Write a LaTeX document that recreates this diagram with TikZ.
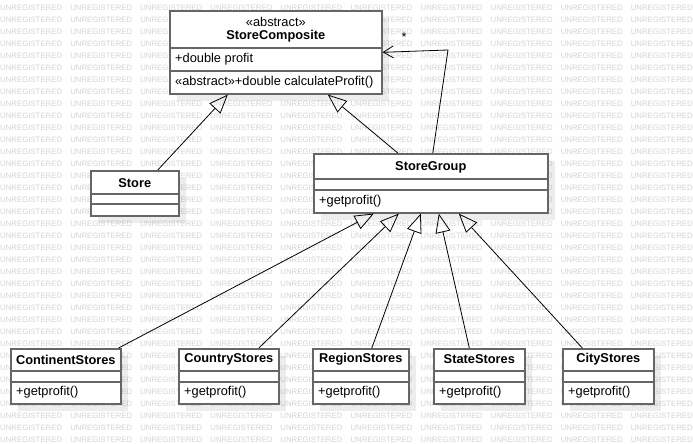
\documentclass[tikz,border=0pt]{standalone}
\usepackage{fontspec}
\setmainfont{Liberation Sans}
\usetikzlibrary{positioning,arrows.meta,shadows}
\tikzset{class box/.style={draw=black!60,line width=1.6pt,fill=white,anchor=north west,inner sep=0pt,
    drop shadow={shadow xshift=7pt,shadow yshift=-7pt,fill=black,opacity=.07}},
  part line/.style={draw=black!60,line width=1.6pt},
  class name/.style={font=\fontsize{12.8}{15}\selectfont\bfseries},
  member/.style={anchor=west,inner sep=0pt},
  inherit/.style={draw,line width=.8pt,-{Triangle[open,length=19pt,width=15pt]}},
  assoc/.style={draw,line width=.8pt,-{Straight Barb[length=10pt,width=12pt]}},
  watermark/.style={anchor=west,inner sep=0pt,text=black!17,font=\fontsize{7.8}{8}\selectfont},}

\begin{document}
\begin{tikzpicture}[x=1pt,y=-1pt,font=\fontsize{12.8}{15}\selectfont]
    \fill[white] (0,0) rectangle (693,444);
    \useasboundingbox (0,0) rectangle (693,444);

    % watermark
    \foreach \r in {0,...,36}
      \foreach \c in {0,...,9}
        \node[watermark] (wm-\r-\c) at (\c*70.07,8.3+\r*12) {UNREGISTERED};

    % StoreComposite
    \node[class box,minimum width=212pt,minimum height=83pt] (comp) at (169,10) {};
    \draw[part line] ([yshift=-38pt]comp.north west) -- ([yshift=-38pt]comp.north east);
    \draw[part line] ([yshift=-61pt]comp.north west) -- ([yshift=-61pt]comp.north east);
    \node (comp st) at ([yshift=-12pt]comp.north) {«abstract»};
    \node[class name] (comp name) at ([yshift=-26pt]comp.north) {StoreComposite};
    \node[member] (comp attr) at ([xshift=6pt,yshift=-49.5pt]comp.north west) {+double profit};
    \node[member] (comp op) at ([xshift=6pt,yshift=-72pt]comp.north west) {«abstract»+double calculateProfit()};

    % Store
    \node[class box,minimum width=88pt,minimum height=45pt] (store) at (90,170) {};
    \draw[part line] ([yshift=-24pt]store.north west) -- ([yshift=-24pt]store.north east);
    \draw[part line] ([yshift=-34pt]store.north west) -- ([yshift=-34pt]store.north east);
    \node[class name] (store name) at ([yshift=-13.5pt]store.north) {Store};

    % StoreGroup
    \node[class box,minimum width=234pt,minimum height=59pt] (group) at (313,153) {};
    \draw[part line] ([yshift=-26pt]group.north west) -- ([yshift=-26pt]group.north east);
    \draw[part line] ([yshift=-37pt]group.north west) -- ([yshift=-37pt]group.north east);
    \node[class name] (group name) at ([yshift=-14pt]group.north) {StoreGroup};
    \node[member] (group op) at ([xshift=6pt,yshift=-48pt]group.north west) {+getprofit()};

    % leaves
    \node[class box,minimum width=110pt,minimum height=55pt] (cont) at (10,348) {};
    \draw[part line] ([yshift=-23pt]cont.north west) -- ([yshift=-23pt]cont.north east);
    \draw[part line] ([yshift=-34pt]cont.north west) -- ([yshift=-34pt]cont.north east);
    \node[class name] (cont name) at ([yshift=-11.5pt]cont.north) {ContinentStores};
    \node[member] (cont op) at ([xshift=6pt,yshift=-44pt]cont.north west) {+getprofit()};

    \node[class box,minimum width=100pt,minimum height=55pt] (country) at (178,348) {};
    \draw[part line] ([yshift=-23pt]country.north west) -- ([yshift=-23pt]country.north east);
    \draw[part line] ([yshift=-34pt]country.north west) -- ([yshift=-34pt]country.north east);
    \node[class name] (country name) at ([yshift=-11.5pt]country.north) {CountryStores};
    \node[member] (country op) at ([xshift=6pt,yshift=-44pt]country.north west) {+getprofit()};

    \node[class box,minimum width=96pt,minimum height=55pt] (region) at (312,348) {};
    \draw[part line] ([yshift=-23pt]region.north west) -- ([yshift=-23pt]region.north east);
    \draw[part line] ([yshift=-34pt]region.north west) -- ([yshift=-34pt]region.north east);
    \node[class name] (region name) at ([yshift=-11.5pt]region.north) {RegionStores};
    \node[member] (region op) at ([xshift=6pt,yshift=-44pt]region.north west) {+getprofit()};

    \node[class box,minimum width=91pt,minimum height=55pt] (state) at (433,348) {};
    \draw[part line] ([yshift=-23pt]state.north west) -- ([yshift=-23pt]state.north east);
    \draw[part line] ([yshift=-34pt]state.north west) -- ([yshift=-34pt]state.north east);
    \node[class name] (state name) at ([yshift=-11.5pt]state.north) {StateStores};
    \node[member] (state op) at ([xshift=6pt,yshift=-44pt]state.north west) {+getprofit()};

    \node[class box,minimum width=91pt,minimum height=55pt] (city) at (562,348) {};
    \draw[part line] ([yshift=-23pt]city.north west) -- ([yshift=-23pt]city.north east);
    \draw[part line] ([yshift=-34pt]city.north west) -- ([yshift=-34pt]city.north east);
    \node[class name] (city name) at ([yshift=-11.5pt]city.north) {CityStores};
    \node[member] (city op) at ([xshift=6pt,yshift=-44pt]city.north west) {+getprofit()};

    % generalisations
    \path
    ([xshift=23pt]store.north) edge[inherit] ([xshift=-48pt]comp.south)
    ([xshift=-33pt]group.north) edge[inherit] ([xshift=52pt]comp.south)
    ([xshift=-3pt]cont.north east) edge[inherit] ([xshift=-57pt]group.south)
    ([xshift=30pt]country.north) edge[inherit] ([xshift=-32pt]group.south)
    ([xshift=11pt]region.north) edge[inherit] ([xshift=-10pt]group.south)
    ([xshift=-10pt]state.north) edge[inherit] ([xshift=8pt]group.south)
    ([xshift=-26pt]city.north) edge[inherit] ([xshift=28pt]group.south)
    ;

    % aggregation back to the composite
    \coordinate (bend) at (448,50);
    \path[assoc] ([xshift=2pt]group.north) -- (bend) -- (comp.east);
    \node (mult) at (404,37) {*};
\end{tikzpicture}
\end{document}
